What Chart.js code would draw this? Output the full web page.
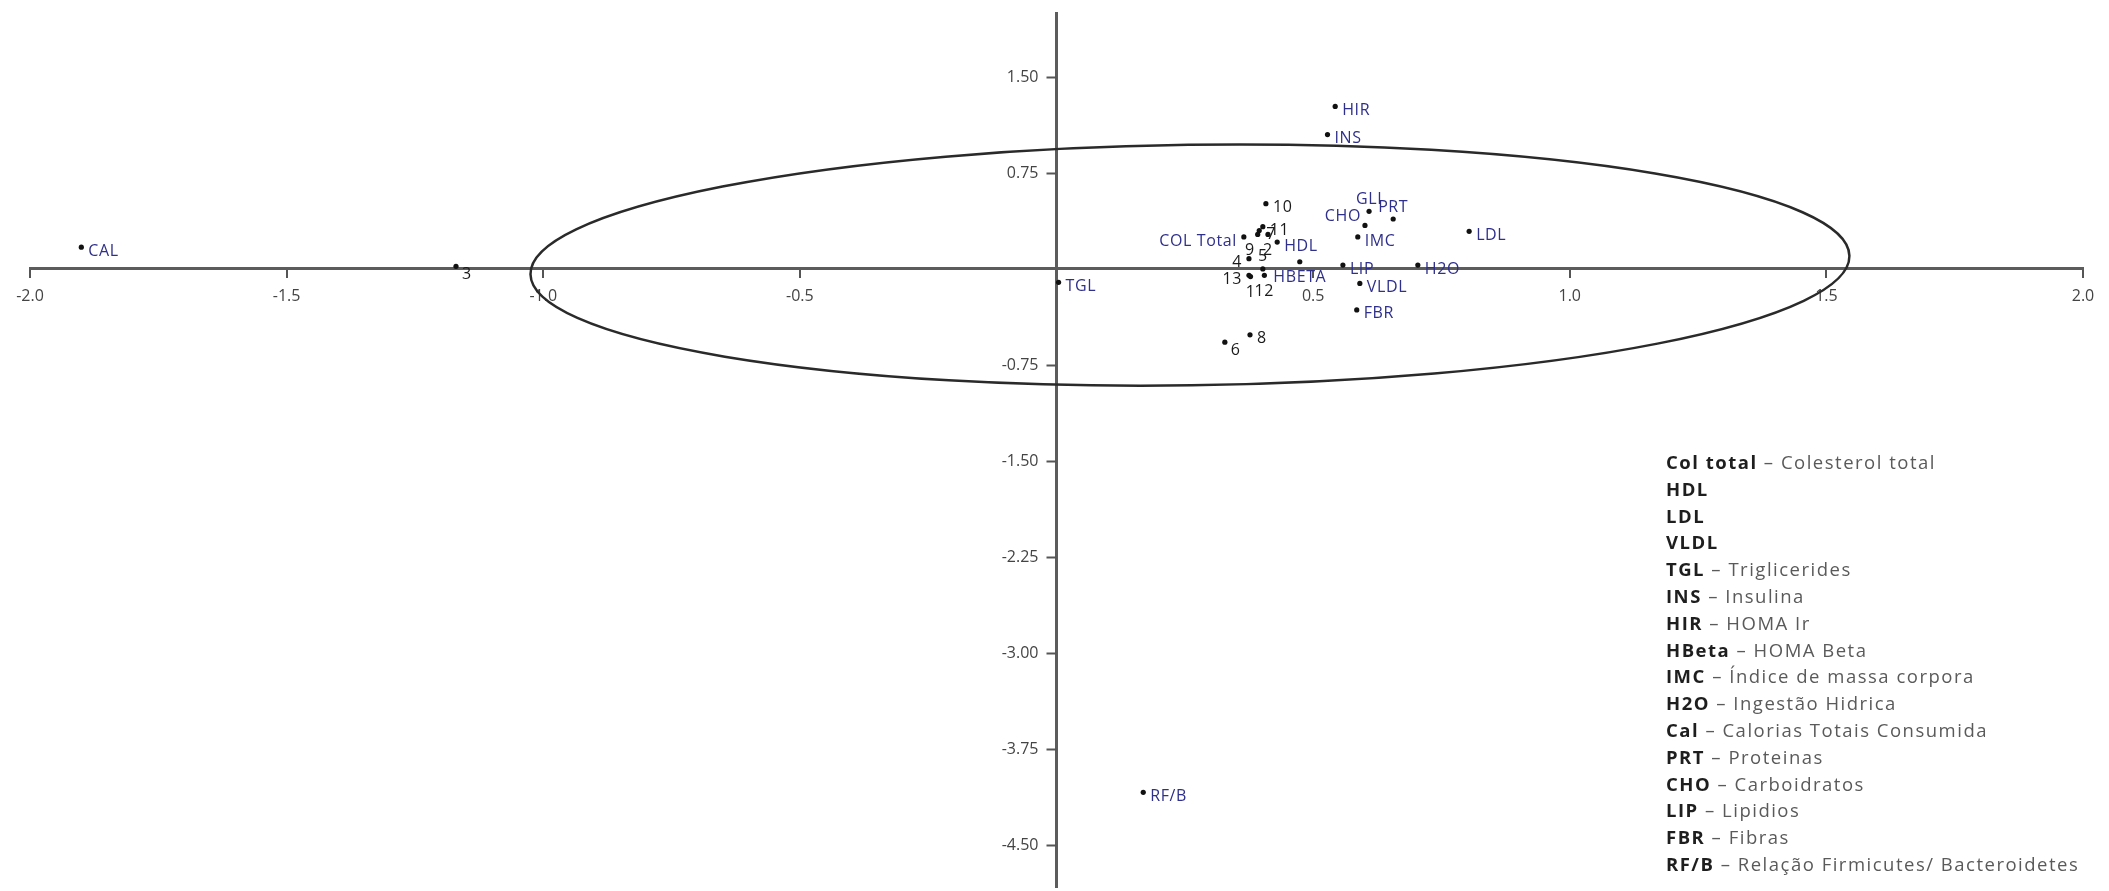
<!DOCTYPE html>
<html>
<head>
<meta charset="utf-8">
<script src="https://cdn.jsdelivr.net/npm/chart.js@4.4.1/dist/chart.umd.min.js"></script>
<style>
  body { margin: 0; background: #fff; }
  #wrap { position: relative; width: 2109px; height: 891px; }
  #legendBox {
    position: absolute; left: 1666px; top: 449px;
    font-family: "Open Sans", sans-serif; font-size: 18.5px; line-height: 26.8px;
    letter-spacing: 1.5px; color: #5a5a5a; white-space: nowrap;
  }
  #legendBox b { color: #1e1e1e; }
</style>
</head>
<body>
<div id="wrap">
  <canvas id="biplot" width="2109" height="891"></canvas>
  <div id="legendBox"></div>
</div>
<script>
// Variables (blue labels)
const varNames = ['CAL', 'TGL', 'RF/B', 'COL Total', 'HDL', 'LDL', 'VLDL', 'INS', 'HIR',
  'HBETA', 'IMC', 'H2O', 'PRT', 'CHO', 'GLI', 'LIP', 'FBR'];
const varX = [-1.90, 0.004, 0.169, 0.365, 0.43, 0.804, 0.591, 0.528, 0.543,
  0.474, 0.587, 0.704, 0.656, 0.601, 0.609, 0.558, 0.585];
const varY = [0.17, -0.105, -4.09, 0.25, 0.21, 0.294, -0.113, 1.05, 1.27,
  0.056, 0.25, 0.03, 0.39, 0.34, 0.45, 0.03, -0.32];

// Samples (black numbers)
const sampleNames = ['1', '2', '3', '4', '5', '6', '7', '8', '9', '10', '11', '12', '13'];
const sampleX = [0.378, 0.412, -1.17, 0.375, 0.402, 0.328, 0.395, 0.377, 0.392, 0.408, 0.402, 0.405, 0.375];
const sampleY = [-0.06, 0.27, 0.02, 0.08, 0.00, -0.572, 0.30, -0.515, 0.27, 0.51, 0.33, -0.05, -0.05];

// Axis ticks
const xTicks = [-2.0, -1.5, -1.0, -0.5, 0.5, 1.0, 1.5, 2.0];
const yTicks = [1.5, 0.75, -0.75, -1.5, -2.25, -3.0, -3.75, -4.5];

// Confidence ellipse (data units)
const ellipseCenter = [0.26, 0.03];
const ellipseRadii = [1.285, 0.94];
const ellipseTiltDeg = 0.8;

// Legend text
const legendAbbr = ['Col total', 'HDL', 'LDL', 'VLDL', 'TGL', 'INS', 'HIR', 'HBeta', 'IMC', 'H2O',
  'Cal', 'PRT', 'CHO', 'LIP', 'FBR', 'RF/B'];
const legendDesc = ['Colesterol total', '', '', '', 'Triglicerides', 'Insulina', 'HOMA Ir', 'HOMA Beta',
  'Índice de massa corpora', 'Ingestão Hidrica', 'Calorias Totais Consumida', 'Proteinas',
  'Carboidratos', 'Lipidios', 'Fibras', 'Relação Firmicutes/ Bacteroidetes'];

// where each label sits relative to its point
const labelSide = {
  'COL Total': 'l', 'HBETA': 'b', 'PRT': 'a', 'CHO': 'al', 'GLI': 'a', '3': 'rb', '6': 'rb',
  '1': 'b', '2': 'b', '9': 'bl', '4': 'l', '5': 'a', '12': 'b', '13': 'l'
};
const sideOffsets = {
  r: [7, 4, 'left'], rb: [6, 8, 'left'], l: [-7, 4, 'right'], a: [0, -12, 'center'],
  b: [0, 16, 'center'], al: [-4, -9, 'right'], bl: [-3, 16, 'right']
};

// build legend
const legendBox = document.getElementById('legendBox');
legendAbbr.forEach((abbr, i) => {
  const line = document.createElement('div');
  const b = document.createElement('b');
  b.textContent = abbr;
  line.appendChild(b);
  if (legendDesc[i]) line.appendChild(document.createTextNode(' – ' + legendDesc[i]));
  legendBox.appendChild(line);
});

const ellipsePlugin = {
  id: 'ellipse',
  afterDatasetsDraw(chart) {
    const xs = chart.scales.x, ys = chart.scales.y;
    const cx = xs.getPixelForValue(ellipseCenter[0]);
    const cy = ys.getPixelForValue(ellipseCenter[1]);
    const rx = Math.abs(xs.getPixelForValue(ellipseCenter[0] + ellipseRadii[0]) - cx);
    const ry = Math.abs(ys.getPixelForValue(ellipseCenter[1] + ellipseRadii[1]) - cy);
    const ctx = chart.ctx;
    ctx.save();
    ctx.strokeStyle = '#2a2a2a';
    ctx.lineWidth = 2.5;
    ctx.beginPath();
    ctx.ellipse(cx, cy, rx, ry, -ellipseTiltDeg * Math.PI / 180, 0, Math.PI * 2);
    ctx.stroke();
    ctx.restore();
  }
};

// y ticks sit to the left of the centred vertical axis
const yTickPlugin = {
  id: 'yTicks',
  afterDraw(chart) {
    const ax = chart.scales.x.getPixelForValue(0);
    const ys = chart.scales.y;
    const ctx = chart.ctx;
    ctx.save();
    ctx.strokeStyle = '#555';
    ctx.lineWidth = 2;
    ctx.fillStyle = '#444';
    ctx.font = '16px "Open Sans", sans-serif';
    ctx.textAlign = 'right';
    ctx.textBaseline = 'middle';
    yTicks.forEach(v => {
      const py = Math.round(ys.getPixelForValue(v)) + 0.5;
      ctx.beginPath();
      ctx.moveTo(ax - 10, py);
      ctx.lineTo(ax, py);
      ctx.stroke();
      ctx.fillText(v.toFixed(2), ax - 18, py);
    });
    ctx.restore();
  }
};

const pointLabels = {
  id: 'pointLabels',
  afterDatasetsDraw(chart) {
    const ctx = chart.ctx;
    ctx.save();
    ctx.textBaseline = 'middle';
    ctx.letterSpacing = '0.6px';
    chart.data.datasets.forEach((ds, i) => {
      const meta = chart.getDatasetMeta(i);
      ctx.fillStyle = ds.labelColor;
      ctx.font = '16px "Open Sans", sans-serif';
      meta.data.forEach((pt, j) => {
        const name = ds.names[j];
        const off = sideOffsets[labelSide[name] || 'r'];
        ctx.textAlign = off[2];
        ctx.fillText(name, pt.x + off[0], pt.y + off[1]);
      });
    });
    ctx.restore();
  }
};

new Chart(document.getElementById('biplot'), {
  type: 'scatter',
  data: {
    datasets: [
      {
        data: varX.map((x, i) => ({ x: x, y: varY[i] })),
        names: varNames,
        labelColor: '#2f2f8c',
        pointRadius: 2.6,
        backgroundColor: '#111',
        borderWidth: 0
      },
      {
        data: sampleX.map((x, i) => ({ x: x, y: sampleY[i] })),
        names: sampleNames,
        labelColor: '#1a1a1a',
        pointRadius: 2.6,
        backgroundColor: '#111',
        borderWidth: 0
      }
    ]
  },
  options: {
    responsive: false,
    animation: false,
    devicePixelRatio: 1,
    layout: { padding: { left: 30, right: 26, top: 13, bottom: 0 } },
    plugins: { legend: { display: false }, tooltip: { enabled: false } },
    scales: {
      x: {
        type: 'linear',
        min: -2, max: 2,
        position: { y: 0 },
        afterBuildTicks: s => { s.ticks = xTicks.map(v => ({ value: v })); },
        grid: { drawOnChartArea: false, tickLength: 8, color: '#555', lineWidth: 2 },
        border: { color: '#5c5c5c', width: 3 },
        ticks: { font: { family: '"Open Sans", sans-serif', size: 16 }, color: '#444',
          padding: 10, maxRotation: 0, callback: v => v.toFixed(1) }
      },
      y: {
        type: 'linear',
        min: -4.83, max: 2.0,
        position: { x: 0 },
        grid: { drawOnChartArea: false, drawTicks: false },
        border: { color: '#5c5c5c', width: 3 },
        ticks: { display: false }
      }
    }
  },
  plugins: [ellipsePlugin, pointLabels, yTickPlugin]
});
</script>
</body>
</html>
